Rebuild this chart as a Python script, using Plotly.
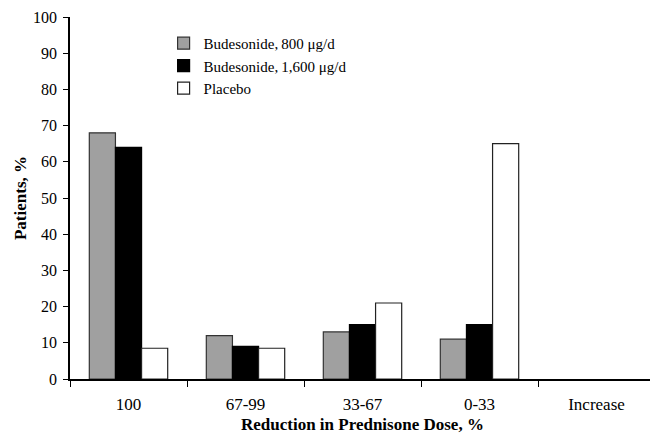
import plotly.graph_objects as go

categories = ["100", "67-99", "33-67", "0-33", "Increase"]
bud800 = [68, 12, 13, 11, 0]
bud1600 = [64, 9, 15, 15, 0]
placebo = [8.5, 8.5, 21, 65, 0]
yticks = [0, 10, 20, 30, 40, 50, 60, 70, 80, 90, 100]

font = "Liberation Serif, Times New Roman, serif"

def edge_widths(vals, w=1.2):
    return [w if v > 0 else 0 for v in vals]

fig = go.Figure()
fig.add_bar(x=categories, y=bud800, name="Budesonide,\u2009800 \u03bcg/d",
            marker=dict(color="#a0a0a0", line=dict(color="#333333", width=edge_widths(bud800))))
fig.add_bar(x=categories, y=bud1600, name="Budesonide,\u20091,600 \u03bcg/d",
            marker=dict(color="#000000", line=dict(color="#000000", width=edge_widths(bud1600))))
fig.add_bar(x=categories, y=placebo, name="Placebo",
            marker=dict(color="#ffffff", line=dict(color="#222222", width=edge_widths(placebo))))

fig.update_layout(
    width=650, height=430,
    margin=dict(l=62, r=3, t=9, b=59),
    paper_bgcolor="white", plot_bgcolor="white",
    barmode="group", bargap=0.33, bargroupgap=0,
    font=dict(family=font, size=15, color="black"),
    showlegend=True,
    legend=dict(x=0.16, y=0.9725, xanchor="left", yanchor="top",
                bgcolor="rgba(0,0,0,0)", font=dict(size=15, family=font),
                tracegroupgap=0, itemwidth=30),
    xaxis=dict(
        automargin=False,
        showline=True, linecolor="black", linewidth=1.5,
        ticks="outside", ticklen=6, tickwidth=1.2, tickcolor="black",
        tickson="boundaries", showgrid=False,
        tickfont=dict(size=17), ticklabelstandoff=9,
        range=[-0.5, 4.5],
    ),
    yaxis=dict(
        automargin=False,
        range=[0, 100], tickvals=yticks, showline=True, linecolor="black", linewidth=1.5,
        ticks="outside", ticklen=5, tickwidth=1.2, tickcolor="black",
        showgrid=False, zeroline=False, ticklabelstandoff=3,
        title=dict(text="<b>Patients, %</b>", font=dict(size=17, family=font), standoff=2),
        tickfont=dict(size=16),
    ),
    annotations=[dict(
        text="<b>Reduction in Prednisone Dose, %</b>", xref="paper", yref="paper",
        x=0.5, y=-0.127, xanchor="center", yanchor="middle", showarrow=False,
        font=dict(size=17, family=font),
    )],
)

fig.write_html("out.html")
